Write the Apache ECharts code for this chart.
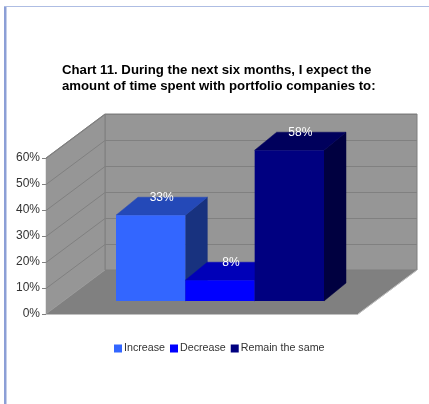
<!DOCTYPE html>
<html>
<head>
<meta charset="utf-8">
<style>html,body{margin:0;padding:0;background:#fff}#c{width:429px;height:404px}</style>
<script src="https://cdn.jsdelivr.net/npm/echarts@6/dist/echarts.min.js"></script>
</head>
<body>
<div id="c"></div>
<script>
const titleLines = ['Chart 11. During the next six months, I expect the', 'amount of time spent with portfolio companies to:'];
const seriesNames = ['Increase', 'Decrease', 'Remain the same'];
const seriesValues = [33, 8, 58];
const axisTicks = [0, 10, 20, 30, 40, 50, 60];
const frontColors = ['#3366FF', '#0000FF', '#000080'];
const topColors = ['#2449B8', '#0000B8', '#00005C'];
const sideColors = ['#18327F', '#00007F', '#000040'];

const font = '"Liberation Sans", Arial, sans-serif';
const wallDX = 59, wallDY = -44;
const barDX = 22, barDY = -18;
const inDX = 18, inDY = -13;

const chart = echarts.init(document.getElementById('c'), null, {renderer: 'canvas'});

function poly(points, fill, stroke) {
  return {type: 'polygon', shape: {points}, style: {fill, stroke: stroke || fill, lineWidth: stroke ? 1 : 0.5}};
}

function renderWalls(params, api) {
  const bottom = api.coord([0, axisTicks[0]]);
  const top = api.coord([0, axisTicks[axisTicks.length - 1]]);
  const band = api.size([1, 0])[0];
  const x0 = bottom[0] - band / 2, x1 = bottom[0] + band / 2;
  const yb = bottom[1], yt = top[1];
  const children = [
    poly([[x0, yb], [x0 + wallDX, yb + wallDY], [x1 + wallDX, yb + wallDY], [x1, yb]], '#808080'),
    poly([[x0 + wallDX, yt + wallDY], [x1 + wallDX, yt + wallDY], [x1 + wallDX, yb + wallDY], [x0 + wallDX, yb + wallDY]], '#969696', '#7F7F7F'),
    poly([[x0, yt], [x0 + wallDX, yt + wallDY], [x0 + wallDX, yb + wallDY], [x0, yb]], '#969696'),
    {type: 'polyline', shape: {points: [[x0, yt], [x0 + wallDX, yt + wallDY], [x0 + wallDX, yb + wallDY]]},
      style: {fill: 'none', stroke: '#7F7F7F', lineWidth: 1}},
    {type: 'line', shape: {x1: x0, y1: yb + 0.5, x2: x1, y2: yb + 0.5}, style: {stroke: '#C0C0C0', lineWidth: 1}},
    {type: 'line', shape: {x1: x1, y1: yb, x2: x1 + wallDX, y2: yb + wallDY}, style: {stroke: '#C0C0C0', lineWidth: 1}}
  ];
  return {type: 'group', children};
}

function renderGrid(params, api) {
  const p = api.coord([0, api.value(1)]);
  const band = api.size([1, 0])[0];
  const x0 = p[0] - band / 2, x1 = p[0] + band / 2, y = Math.round(p[1]) + 0.5;
  return {type: 'polyline', shape: {points: [[x0, y], [x0 + wallDX, y + wallDY], [x1 + wallDX, y + wallDY]]},
    style: {fill: 'none', stroke: '#808080', lineWidth: 1}};
}

function makeBarRenderer(idx) {
  return function (params, api) {
    const val = api.value(1);
    const top = api.coord([0, val]);
    const base = api.coord([0, 0]);
    const band = api.size([1, 0])[0];
    const w = band / 4.5;
    const startX = top[0] + inDX - w * 1.5 + idx * w;
    const x0 = startX, x1 = startX + w;
    const yt = top[1] + inDY, yb = base[1] + inDY;
    return {type: 'group', children: [
      poly([[x1, yt], [x1 + barDX, yt + barDY], [x1 + barDX, yb + barDY], [x1, yb]], sideColors[idx]),
      poly([[x0, yt], [x0 + barDX, yt + barDY], [x1 + barDX, yt + barDY], [x1, yt]], topColors[idx]),
      {type: 'rect', shape: {x: x0, y: yt, width: w, height: yb - yt}, style: {fill: frontColors[idx]}},
      {type: 'text', x: (x0 + x1) / 2 + barDX / 2, y: yt + barDY,
        style: {text: val + '%', fill: '#FFFFFF', font: '12px ' + font, align: 'center', verticalAlign: 'middle'}}
    ]};
  };
}

const barSeries = seriesNames.map((name, i) => ({
  name, type: 'custom', renderItem: makeBarRenderer(i), z: 5,
  itemStyle: {color: frontColors[i]},
  encode: {x: 0, y: 1},
  data: [[0, seriesValues[i]]]
}));

chart.setOption({
  animation: false,
  backgroundColor: '#FFFFFF',
  title: {
    text: titleLines.join('\n'), left: 62, top: 62, padding: 0,
    textStyle: {fontFamily: font, fontSize: 13.2, fontWeight: 'bold', color: '#000000', lineHeight: 16}
  },
  legend: {
    data: seriesNames, top: 343, left: 114, icon: 'rect', itemWidth: 8, itemHeight: 8, itemGap: 5,
    selectedMode: false, padding: 0,
    textStyle: {fontFamily: font, fontSize: 10.7, color: '#333333', padding: [0, 0, 0, -3]}
  },
  grid: {left: 46, top: 158, width: 312, height: 156, containLabel: false},
  xAxis: {type: 'category', data: [''], axisLine: {show: false}, axisTick: {show: false}, axisLabel: {show: false}},
  yAxis: {
    type: 'value', min: 0, max: 60, interval: 10,
    axisLine: {show: false}, splitLine: {show: false},
    axisTick: {show: true, length: 4, lineStyle: {color: '#808080'}},
    axisLabel: {margin: 6, fontFamily: font, fontSize: 12, color: '#333333', formatter: '{value}%'}
  },
  graphic: [
    {type: 'rect', z: 100, shape: {x: 4, y: 6, width: 2.5, height: 398}, style: {fill: '#8C9FD6'}},
    {type: 'rect', z: 100, shape: {x: 4, y: 6, width: 425, height: 1}, style: {fill: '#AEBDE3'}}
  ],
  series: [
    {type: 'custom', name: 'walls', renderItem: renderWalls, z: 1, encode: {x: 0, y: 1}, data: [[0, 60]], silent: true},
    {type: 'custom', name: 'grid', renderItem: renderGrid, z: 2, encode: {x: 0, y: 1}, silent: true,
      data: axisTicks.slice(1).map(t => [0, t])},
    ...barSeries
  ]
});
</script>
</body>
</html>
